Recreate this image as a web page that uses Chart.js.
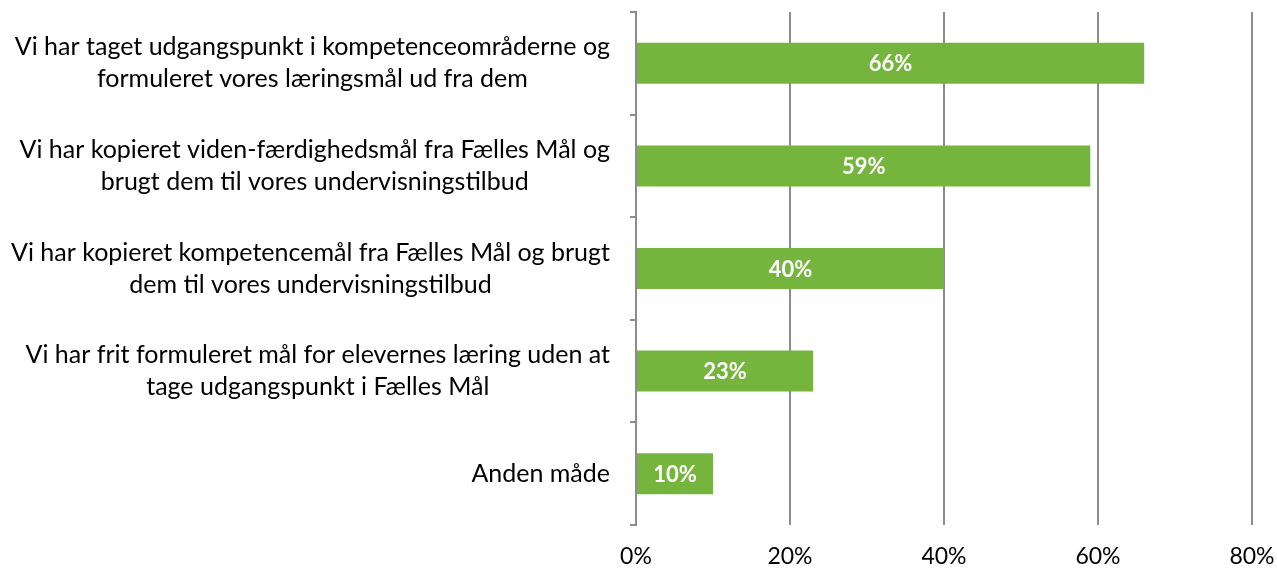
<!DOCTYPE html>
<html>
<head>
<meta charset="utf-8">
<script src="https://cdn.jsdelivr.net/npm/chart.js@4/dist/chart.umd.min.js"></script>
<style>
  html, body { margin: 0; padding: 0; background: #fff; }
  canvas { display: block; }
</style>
</head>
<body>
<canvas id="barChartCanvas" width="1277" height="568"></canvas>
<script>
const categories = [
    ['Vi har taget udgangspunkt i kompetenceområderne og', 'formuleret vores læringsmål ud fra dem'],
    ['Vi har kopieret viden-færdighedsmål fra Fælles Mål og', 'brugt dem til vores undervisningstilbud'],
    ['Vi har kopieret kompetencemål fra Fælles Mål og brugt', 'dem til vores undervisningstilbud'],
    ['Vi har frit formuleret mål for elevernes læring uden at', 'tage udgangspunkt i Fælles Mål'],
    ['Anden måde']
];
const values = [66, 59, 40, 23, 10];
const xTicks = [0, 20, 40, 60, 80];

const fontFamily = 'Lato, "Open Sans", sans-serif';
const barColor = 'rgb(118, 181, 61)';
const lineColor = '#8c8c8c';

// category labels: each block right aligned, lines centred inside the block
const categoryLabels = {
    id: 'categoryLabels',
    afterDraw(chart) {
        const ctx = chart.ctx;
        const y = chart.scales.y;
        const right = chart.chartArea.left - 26;
        const lineH = 32;
        ctx.save();
        ctx.font = '25px ' + fontFamily;
        ctx.fillStyle = '#000';
        ctx.textAlign = 'center';
        ctx.textBaseline = 'middle';
        categories.forEach((lines, i) => {
            const cy = y.getPixelForValue(i);
            const w = Math.max(...lines.map(l => ctx.measureText(l).width));
            const cx = right - w / 2;
            const top = cy - (lines.length - 1) * lineH / 2;
            lines.forEach((l, j) => ctx.fillText(l, cx, top + j * lineH));
        });
        ctx.restore();
    }
};

// value labels in the middle of each bar
const valueLabels = {
    id: 'valueLabels',
    afterDatasetsDraw(chart) {
        const ctx = chart.ctx;
        const meta = chart.getDatasetMeta(0);
        ctx.save();
        ctx.font = 'bold 22px ' + fontFamily;
        ctx.fillStyle = '#fff';
        ctx.textAlign = 'center';
        ctx.textBaseline = 'middle';
        meta.data.forEach((bar, i) => {
            const p = bar.getProps(['x', 'y', 'base'], true);
            ctx.fillText(values[i] + '%', (p.x + p.base) / 2, p.y + 1);
        });
        ctx.restore();
    }
};

let barChartDraw = function () {
    let ctx = document.getElementById('barChartCanvas').getContext('2d');

    window.barChart = new Chart(ctx, {
        type: 'bar',
        data: {
            labels: categories,
            datasets: [{
                data: values,
                backgroundColor: barColor,
                categoryPercentage: 1,
                barPercentage: 0.4
            }]
        },
        options: {
            indexAxis: 'y',
            responsive: false,
            animation: false,
            layout: { padding: { top: 12, right: 0, left: 0, bottom: 0 } },
            plugins: {
                legend: { display: false },
                tooltip: { enabled: false }
            },
            scales: {
                x: {
                    min: 0,
                    max: 80,
                    afterBuildTicks: s => { s.ticks = xTicks.map(v => ({ value: v })); },
                    afterFit: s => { s.height = 43; s.paddingRight = 25; s.paddingLeft = 0; },
                    ticks: {
                        callback: v => v + '%',
                        font: { family: fontFamily, size: 23 },
                        color: '#000',
                        padding: 18,
                        maxRotation: 0
                    },
                    grid: { color: lineColor, lineWidth: 2, drawTicks: false },
                    border: { display: false }
                },
                y: {
                    ticks: { display: false },
                    afterFit: s => { s.width = 636; },
                    grid: {
                        drawOnChartArea: false,
                        drawTicks: true,
                        tickLength: 6,
                        color: lineColor,
                        lineWidth: 2,
                        offset: true
                    },
                    border: { display: true, color: lineColor, width: 2 }
                }
            }
        },
        plugins: [categoryLabels, valueLabels]
    });
};

window.onload = function () {
    barChartDraw();
}
</script>
</body>
</html>
